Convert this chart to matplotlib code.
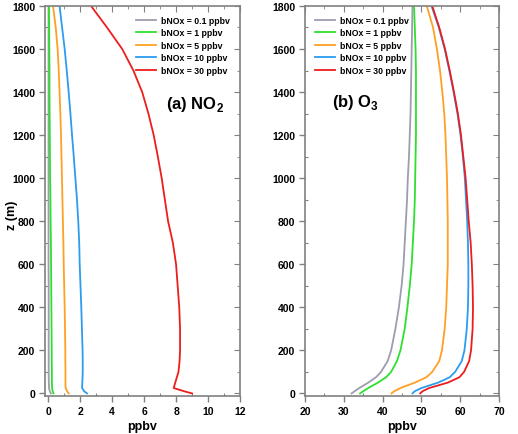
import matplotlib
matplotlib.use("Agg")
import matplotlib.pyplot as plt
from matplotlib.ticker import MultipleLocator

plt.rcParams["font.family"] = ["Liberation Sans", "DejaVu Sans"]
plt.rcParams["font.weight"] = "bold"
plt.rcParams["mathtext.fontset"] = "custom"
plt.rcParams["mathtext.rm"] = "Liberation Sans:bold"
plt.rcParams["mathtext.bf"] = "Liberation Sans:bold"

# heights (m)
z = [0, 10, 25, 50, 75, 100, 150, 200, 300, 400, 500, 600, 700, 800, 900, 1000,
     1100, 1200, 1300, 1400, 1500, 1600, 1700, 1800]

labels = ["bNOx = 0.1 ppbv", "bNOx = 1 ppbv", "bNOx = 5 ppbv", "bNOx = 10 ppbv", "bNOx = 30 ppbv"]
colors = ["#9d9dad", "#2ee02e", "#ffa023", "#2c9cf0", "#ee1d1d"]

# NO2 profiles (ppbv)
no2_01 = [0.17, 0.10, 0.05, 0.04, 0.03, 0.03, 0.03, 0.03, 0.03, 0.03, 0.03, 0.02, 0.02, 0.02,
          0.02, 0.02, 0.02, 0.02, 0.02, 0.02, 0.02, 0.02, 0.02, 0.02]
no2_1 = [0.33, 0.28, 0.24, 0.23, 0.23, 0.23, 0.22, 0.22, 0.21, 0.20, 0.19, 0.18, 0.17, 0.15,
         0.14, 0.12, 0.11, 0.10, 0.09, 0.08, 0.08, 0.07, 0.06, 0.05]
no2_5 = [1.28, 1.18, 1.09, 1.08, 1.08, 1.08, 1.07, 1.07, 1.05, 1.03, 1.00, 0.97, 0.95, 0.92,
         0.89, 0.86, 0.83, 0.80, 0.76, 0.71, 0.66, 0.59, 0.47, 0.30]
no2_10 = [2.43, 2.25, 2.12, 2.13, 2.15, 2.16, 2.16, 2.15, 2.11, 2.07, 2.02, 1.97, 1.94, 1.88,
          1.80, 1.70, 1.60, 1.49, 1.39, 1.28, 1.16, 1.03, 0.87, 0.71]
no2_30 = [9.0, 8.5, 7.85, 7.95, 8.05, 8.15, 8.22, 8.25, 8.25, 8.2, 8.1, 8.0, 7.8, 7.5,
          7.3, 7.1, 6.86, 6.6, 6.27, 5.88, 5.33, 4.63, 3.68, 2.68]

# O3 profiles (ppbv)
o3_01 = [32.0, 32.8, 34.0, 36.3, 38.3, 39.6, 41.3, 42.2, 43.3, 44.2, 44.9, 45.4, 45.7, 46.0,
         46.3, 46.5, 46.8, 47.0, 47.2, 47.3, 47.4, 47.5, 47.6, 47.7]
o3_1 = [34.2, 35.0, 36.3, 38.8, 40.9, 42.2, 43.7, 44.6, 45.7, 46.4, 47.0, 47.5, 47.8, 48.1,
        48.3, 48.4, 48.5, 48.6, 48.6, 48.6, 48.6, 48.5, 48.3, 48.1]
o3_5 = [42.3, 43.0, 44.6, 48.3, 51.3, 52.8, 54.6, 55.3, 56.0, 56.4, 56.6, 56.8, 56.8, 56.8,
        56.7, 56.6, 56.4, 56.2, 55.9, 55.4, 54.8, 54.0, 53.0, 51.4]
o3_10 = [47.7, 48.3, 50.0, 54.3, 57.3, 58.7, 60.4, 61.1, 61.7, 62.0, 62.1, 62.1, 62.0, 61.8,
         61.5, 61.2, 60.7, 60.1, 59.3, 58.3, 57.2, 56.0, 54.5, 52.6]
o3_30 = [49.7, 50.3, 52.0, 56.8, 59.8, 61.0, 62.3, 62.8, 63.2, 63.3, 63.2, 63.0, 62.7, 62.2,
         61.8, 61.4, 60.8, 60.2, 59.4, 58.4, 57.3, 56.1, 54.6, 52.8]

fig = plt.figure(figsize=(5.18, 4.35), dpi=100)
ax1 = fig.add_axes([0.0869, 0.0874, 0.3764, 0.8966])
ax2 = fig.add_axes([0.5888, 0.0874, 0.3745, 0.8966])


def style(ax, xmaj, xmin):
    for s in ax.spines.values():
        s.set_color("#808080")
        s.set_linewidth(1.2)
    ax.xaxis.set_major_locator(MultipleLocator(xmaj))
    ax.xaxis.set_minor_locator(MultipleLocator(xmin))
    ax.yaxis.set_major_locator(MultipleLocator(200))
    ax.yaxis.set_minor_locator(MultipleLocator(100))
    ax.tick_params(which="major", direction="out", length=4, width=1, color="#808080",
                   labelsize=7.5, pad=3)
    ax.tick_params(which="minor", direction="in", length=2.5, width=0.8, color="#808080")
    # top / right ticks point inward
    top = ax.secondary_xaxis("top")
    top.xaxis.set_major_locator(MultipleLocator(xmaj))
    top.xaxis.set_minor_locator(MultipleLocator(xmin))
    top.tick_params(which="major", direction="in", length=4, color="#808080", labeltop=False)
    top.tick_params(which="minor", direction="in", length=2.5, color="#808080")
    top.spines["top"].set_visible(False)
    right = ax.secondary_yaxis("right")
    right.yaxis.set_major_locator(MultipleLocator(200))
    right.yaxis.set_minor_locator(MultipleLocator(100))
    right.tick_params(which="major", direction="in", length=4, color="#808080", labelright=False)
    right.tick_params(which="minor", direction="in", length=2.5, color="#808080")
    right.spines["right"].set_visible(False)
    ax.set_ylim(-12, 1800)
    ax.set_xlabel("ppbv", fontsize=9, fontweight="bold", labelpad=3)


for vals, c, lab in zip([no2_01, no2_1, no2_5, no2_10, no2_30], colors, labels):
    ax1.plot(vals, z, color=c, lw=1.3, label=lab)
for vals, c, lab in zip([o3_01, o3_1, o3_5, o3_10, o3_30], colors, labels):
    ax2.plot(vals, z, color=c, lw=1.3, label=lab)

ax1.set_xlim(-0.2, 12)
style(ax1, 2, 1)
ax2.set_xlim(20, 70)
style(ax2, 10, 5)

fig.text(0.024, 0.505, "z (m)", fontsize=9, fontweight="bold", rotation=90,
         ha="center", va="center")

ax1.text(7.4, 1345, "(a) NO$_\\mathbf{2}$", fontsize=12, fontweight="bold", ha="left", va="center")
ax2.text(27.0, 1355, "(b) O$_\\mathbf{3}$", fontsize=12, fontweight="bold", ha="left", va="center")

leg_kw = dict(frameon=False, fontsize=6.3, handlelength=2.3, handletextpad=0.6,
              labelspacing=0.4, borderaxespad=0.7)
ax1.legend(loc="upper right", **leg_kw)
ax2.legend(loc="upper left", **leg_kw)

fig.savefig("out.png", dpi=100)
